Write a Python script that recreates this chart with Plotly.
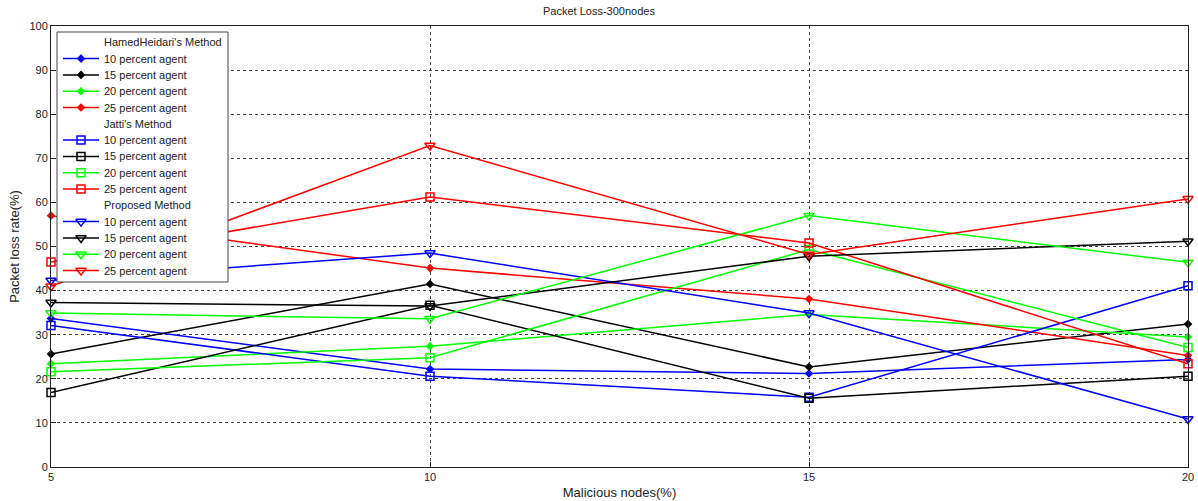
import plotly.graph_objects as go

x_vals = [5, 10, 15, 20]

hamed_10 = [33.7, 22.2, 21.2, 24.4]
hamed_15 = [25.6, 41.5, 22.7, 32.4]
hamed_20 = [23.4, 27.4, 34.6, 29.5]
hamed_25 = [57.0, 45.1, 38.1, 25.3]

jatti_10 = [32.1, 20.6, 15.8, 41.1]
jatti_15 = [16.9, 36.7, 15.6, 20.6]
jatti_20 = [21.6, 24.8, 49.3, 27.1]
jatti_25 = [46.5, 61.2, 50.8, 23.4]

prop_10 = [42.3, 48.5, 34.9, 10.9]
prop_15 = [37.3, 36.5, 47.8, 51.2]
prop_20 = [34.9, 33.6, 57.0, 46.4]
prop_25 = [41.0, 72.9, 48.2, 60.8]

series_names = ["10 percent agent", "15 percent agent", "20 percent agent", "25 percent agent"]
colors = ["#0000ff", "#000000", "#00ff00", "#ff0000"]

groups = [
    ("HamedHeidari's Method", [hamed_10, hamed_15, hamed_20, hamed_25], "diamond", 5),
    ("Jatti's Method", [jatti_10, jatti_15, jatti_20, jatti_25], "square-open", 8),
    ("Proposed Method", [prop_10, prop_15, prop_20, prop_25], "triangle-down-open", 9),
]

W, H = 1198, 501
ML, MR, MT, MB = 51, 10, 26, 34
PW, PH = W - ML - MR, H - MT - MB

fig = go.Figure()
for title, data, sym, sz in groups:
    for name, ys, c in zip(series_names, data, colors):
        fig.add_trace(go.Scatter(x=x_vals, y=ys, mode="lines+markers", name=name,
                                 line=dict(color=c, width=1.5), cliponaxis=False,
                                 marker=dict(symbol=sym, size=sz, color=c,
                                             line=dict(color=c, width=1.5))))

# --- legend drawn on an overlay axis measured in plot pixels ---
box = dict(x0=6, x1=177, y0=6, y1=256)
row_h = 16.3
fig.add_trace(go.Scatter(x=[box["x0"], box["x1"], box["x1"], box["x0"], box["x0"]],
                         y=[box["y0"], box["y0"], box["y1"], box["y1"], box["y0"]],
                         xaxis="x2", yaxis="y2", mode="lines", fill="toself",
                         fillcolor="white", line=dict(color="#444", width=1),
                         hoverinfo="skip", showlegend=False))
annotations = []
row = 0
for title, data, sym, sz in groups:
    row += 1
    annotations.append(dict(x=51, y=row * row_h, xref="x2", yref="y2", text=title,
                            showarrow=False, xanchor="left", yanchor="middle",
                            font=dict(size=11, color="#222")))
    for name, c in zip(series_names, colors):
        row += 1
        ry = row * row_h
        fig.add_trace(go.Scatter(x=[12, 48], y=[ry, ry], xaxis="x2", yaxis="y2",
                                 mode="lines", line=dict(color=c, width=1.5),
                                 hoverinfo="skip", showlegend=False))
        fig.add_trace(go.Scatter(x=[30], y=[ry], xaxis="x2", yaxis="y2",
                                 mode="markers", cliponaxis=False,
                                 marker=dict(symbol=sym, size=sz, color=c,
                                             line=dict(color=c, width=1.5)),
                                 hoverinfo="skip", showlegend=False))
        annotations.append(dict(x=51, y=ry, xref="x2", yref="y2", text=name,
                                showarrow=False, xanchor="left", yanchor="middle",
                                font=dict(size=11, color="#222")))

fig.update_layout(
    width=W, height=H,
    margin=dict(l=ML, r=MR, t=MT, b=MB),
    paper_bgcolor="white", plot_bgcolor="white",
    font=dict(family="Liberation Sans, Arial, sans-serif", size=11, color="#222"),
    title=dict(text="Packet Loss-300nodes", x=0.5, xanchor="center", y=0.985, yanchor="top",
               font=dict(size=11, color="#222")),
    showlegend=False,
    annotations=annotations,
    xaxis2=dict(overlaying="x", range=[0, PW], visible=False, fixedrange=True),
    yaxis2=dict(overlaying="y", range=[PH, 0], visible=False, fixedrange=True),
    xaxis=dict(range=[5, 20], tickvals=[5, 10, 15, 20], showgrid=True,
               gridcolor="#444", griddash="dot", gridwidth=1, automargin=False,
               showline=True, linecolor="#222", linewidth=1, mirror=True,
               zeroline=False, ticks="inside", ticklen=5, tickcolor="#222",
               title=dict(text="Malicious nodes(%)", standoff=5)),
    yaxis=dict(range=[0, 100], tickvals=list(range(0, 101, 10)), showgrid=True,
               gridcolor="#444", griddash="dot", gridwidth=1, automargin=False,
               showline=True, linecolor="#222", linewidth=1, mirror=True,
               zeroline=False, ticks="inside", ticklen=5, tickcolor="#222",
               title=dict(text="Packet loss rate(%)", standoff=6)),
)

fig.write_html("out.html")
